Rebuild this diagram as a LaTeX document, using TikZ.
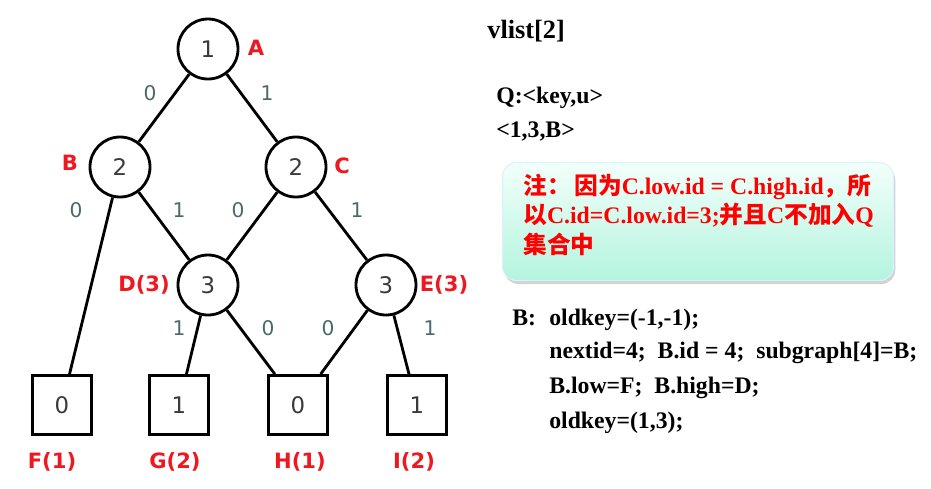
\documentclass[tikz,border=0pt]{standalone}
\usepackage{fontspec}
\setmainfont{Liberation Serif}
\newfontfamily\dejavu{DejaVu Sans}
\newfontfamily\cjk{Noto Sans CJK SC}
\usetikzlibrary{shadows}
\definecolor{lblred}{HTML}{F01820}
\definecolor{digit}{HTML}{3A3A3A}
\definecolor{edig}{HTML}{4A6A6A}
\definecolor{boxtop}{HTML}{F2FFFB}
\definecolor{boxbot}{HTML}{B4F4DE}
\newcommand{\zh}[1]{{\cjk\bfseries #1}}
\tikzset{
  cnode/.style={circle, draw=black, line width=1.6pt, minimum size=60*0.02cm, inner sep=0pt, font=\dejavu\fontsize{13}{15}\selectfont, text=digit},
  snode/.style={rectangle, draw=black, line width=1.6pt, minimum size=59*0.02cm, inner sep=0pt, font=\dejavu\fontsize{13}{15}\selectfont, text=digit},
  lbl/.style={font=\dejavu\bfseries\fontsize{12}{14}\selectfont, text=lblred, inner sep=0pt},
  elbl/.style={font=\dejavu\fontsize{11.5}{14}\selectfont, text=edig, inner sep=0pt},
  edge/.style={line width=1.6pt, draw=black},
  bodytxt/.style={font=\bfseries\fontsize{13.5}{16}\selectfont, anchor=base west, inner sep=0pt},
  redtxt/.style={font=\bfseries\fontsize{13.5}{16}\selectfont, text=red, anchor=base west, inner sep=0pt},
}
\begin{document}
\begin{tikzpicture}[x=0.02cm,y=-0.02cm]
\useasboundingbox (0,0) rectangle (931,488);
% tree nodes
\node[cnode] (A) at (208,49) {1};
\node[cnode] (B) at (120,167) {2};
\node[cnode] (C) at (296,167) {2};
\node[cnode] (D) at (208,285) {3};
\node[cnode] (E) at (386,285) {3};
\node[snode] (F) at (62,405) {0};
\node[snode] (G) at (179,405) {1};
\node[snode] (H) at (298,405) {0};
\node[snode] (I) at (417,405) {1};
% edges
\draw[edge] (A) -- (B);
\draw[edge] (A) -- (C);
\draw[edge] (B) -- (F);
\draw[edge] (B) -- (D);
\draw[edge] (C) -- (D);
\draw[edge] (C) -- (E);
\draw[edge] (D) -- (G);
\draw[edge] (D) -- (H);
\draw[edge] (E) -- (H);
\draw[edge] (E) -- (I);
% edge labels
\node[elbl] (eAB) at (150,93) {0};
\node[elbl] (eAC) at (267,93) {1};
\node[elbl] (eBF) at (76,210) {0};
\node[elbl] (eBD) at (179,210) {1};
\node[elbl] (eCD) at (238,210) {0};
\node[elbl] (eCE) at (357,210) {1};
\node[elbl] (eDG) at (179,328) {1};
\node[elbl] (eDH) at (268,328) {0};
\node[elbl] (eEH) at (328,328) {0};
\node[elbl] (eEI) at (430,328) {1};
% node names
\node[lbl] (lA) at (256,48) {A};
\node[lbl] (lB) at (70,163) {B};
\node[lbl] (lC) at (342,166) {C};
\node[lbl] (lD) at (144,285) {D(3)};
\node[lbl] (lE) at (444,285) {E(3)};
\node[lbl] (lF) at (52,462) {F(1)};
\node[lbl] (lG) at (175,462) {G(2)};
\node[lbl] (lH) at (300,462) {H(1)};
\node[lbl] (lI) at (414,462) {I(2)};
% right text
\node[font=\bfseries\fontsize{15}{18}\selectfont, anchor=base west, inner sep=0pt] (vl) at (487,38) {vlist[2]};
\node[bodytxt] (q) at (496,103) {Q:<key,u>};
\node[bodytxt] (q1) at (496,137) {<1,3,B>};
% note box
\node[draw=white!85!cyan, line width=0.6pt, rounded corners=14*0.02cm, top color=boxtop, bottom color=boxbot, drop shadow={shadow xshift=1pt, shadow yshift=-2pt, opacity=0.35}, minimum width=391*0.02cm, minimum height=118*0.02cm, anchor=north west, inner sep=0pt] (box) at (502,162) {};
\node[redtxt] (r1) at (523,194) {\zh{注：\hspace{0.15em}因为}C.low.id = C.high.id\zh{，所}};
\node[redtxt] (r2) at (523,223) {\zh{以}C.id=C.low.id=3;\zh{并且}C\zh{不加入}Q};
\node[redtxt] (r3) at (523,253) {\zh{集合中}};
% bottom code
\node[bodytxt] (b0) at (512,325) {B:};
\node[bodytxt] (b1) at (549,325) {oldkey=(-1,-1);};
\node[bodytxt] (b2) at (549,358) {nextid=4;\ \ B.id = 4;\ \ subgraph[4]=B;};
\node[bodytxt] (b3) at (549,393) {B.low=F;\ \ B.high=D;};
\node[bodytxt] (b4) at (549,428) {oldkey=(1,3);};
\end{tikzpicture}
\end{document}
